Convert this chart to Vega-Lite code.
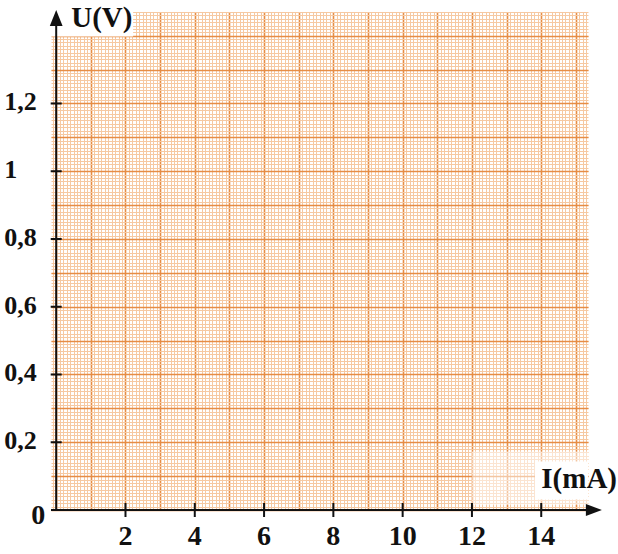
{
  "$schema": "https://vega.github.io/schema/vega-lite/v6.json",
  "width": 537,
  "height": 498,
  "autosize": {"type": "none"},
  "padding": {"left": 51, "top": 12, "right": 30, "bottom": 44},
  "background": "white",
  "config": {"view": {"stroke": null}},
  "resolve": {"axis": {"x": "independent", "y": "independent"}},
  "layer": [
    {
      "data": {"values": [{"I": 0, "U": 0}]},
      "mark": {"type": "point", "opacity": 0},
      "encoding": {
        "x": {"field": "I", "type": "quantitative", "scale": {"domain": [-0.15, 15.35], "nice": false, "zero": false},
              "axis": {"grid": true, "domain": false, "ticks": false, "labels": false, "title": null, "tickCount": 155, "gridColor": "#F6C9A2", "gridWidth": 1, "gridOpacity": 1}},
        "y": {"field": "U", "type": "quantitative", "scale": {"domain": [0, 1.47], "nice": false, "zero": false},
              "axis": {"grid": true, "domain": false, "ticks": false, "labels": false, "title": null, "tickCount": 147, "gridColor": "#F6C9A2", "gridWidth": 1, "gridOpacity": 1}}
      }
    },
    {
      "data": {"values": [{"I": 0, "U": 0}]},
      "mark": {"type": "point", "opacity": 0},
      "encoding": {
        "x": {"field": "I", "type": "quantitative", "scale": {"domain": [-0.15, 15.35], "nice": false, "zero": false},
              "axis": {"grid": true, "domain": false, "ticks": false, "labels": false, "title": null, "tickCount": 15, "gridColor": "#E68D45", "gridWidth": 1.6, "gridOpacity": 1}},
        "y": {"field": "U", "type": "quantitative", "scale": {"domain": [0, 1.47], "nice": false, "zero": false},
              "axis": {"grid": true, "domain": false, "ticks": false, "labels": false, "title": null, "tickCount": 15, "gridColor": "#E68D45", "gridWidth": 1.6, "gridOpacity": 1}}
      }
    },
    {
      "data": {"values": [{"I": 12.0, "I2": 15.35, "U": 0.015, "U2": 0.173}]},
      "mark": {"type": "rect", "fill": "white", "opacity": 0.5},
      "encoding": {
        "x": {"field": "I", "type": "quantitative", "scale": {"domain": [-0.15, 15.35], "nice": false, "zero": false}, "axis": null},
        "x2": {"field": "I2"},
        "y": {"field": "U", "type": "quantitative", "scale": {"domain": [0, 1.47], "nice": false, "zero": false}, "axis": null},
        "y2": {"field": "U2"}
      }
    },
    {
      "data": {"values": [
        {"I": 13.82, "I2": 15.35, "U": 0.031, "U2": 0.143},
        {"I": -0.15, "I2": 2.22, "U": 1.398, "U2": 1.47}
      ]},
      "mark": {"type": "rect", "fill": "white", "opacity": 1},
      "encoding": {
        "x": {"field": "I", "type": "quantitative", "scale": {"domain": [-0.15, 15.35], "nice": false, "zero": false}, "axis": null},
        "x2": {"field": "I2"},
        "y": {"field": "U", "type": "quantitative", "scale": {"domain": [0, 1.47], "nice": false, "zero": false}, "axis": null},
        "y2": {"field": "U2"}
      }
    },
    {
      "data": {"values": [
        {"I": -0.15, "I2": 15.5, "U": 0, "U2": 0},
        {"I": 0, "I2": 0, "U": 0, "U2": 1.45}
      ]},
      "mark": {"type": "rule", "color": "#111111", "strokeWidth": 2},
      "encoding": {
        "x": {"field": "I", "type": "quantitative", "scale": {"domain": [-0.15, 15.35], "nice": false, "zero": false}, "axis": null},
        "x2": {"field": "I2"},
        "y": {"field": "U", "type": "quantitative", "scale": {"domain": [0, 1.47], "nice": false, "zero": false}, "axis": null},
        "y2": {"field": "U2"}
      }
    },
    {
      "data": {"values": [
        {"I": 2, "U": 0}, {"I": 4, "U": 0}, {"I": 6, "U": 0}, {"I": 8, "U": 0},
        {"I": 10, "U": 0}, {"I": 12, "U": 0}, {"I": 14, "U": 0}
      ]},
      "mark": {"type": "tick", "orient": "vertical", "size": 14, "thickness": 2, "color": "#111111", "opacity": 1},
      "encoding": {
        "x": {"field": "I", "type": "quantitative", "scale": {"domain": [-0.15, 15.35], "nice": false, "zero": false}, "axis": null},
        "y": {"field": "U", "type": "quantitative", "scale": {"domain": [0, 1.47], "nice": false, "zero": false}, "axis": null}
      }
    },
    {
      "data": {"values": [
        {"I": 0, "U": 0.2}, {"I": 0, "U": 0.4}, {"I": 0, "U": 0.6},
        {"I": 0, "U": 0.8}, {"I": 0, "U": 1.0}, {"I": 0, "U": 1.2}
      ]},
      "mark": {"type": "tick", "orient": "horizontal", "size": 11, "thickness": 2, "color": "#111111", "opacity": 1},
      "encoding": {
        "x": {"field": "I", "type": "quantitative", "scale": {"domain": [-0.15, 15.35], "nice": false, "zero": false}, "axis": null},
        "y": {"field": "U", "type": "quantitative", "scale": {"domain": [0, 1.47], "nice": false, "zero": false}, "axis": null}
      }
    },
    {
      "data": {"values": [{"I": 15.52, "U": 0}]},
      "mark": {"type": "point", "shape": "M -1 -0.75 L 1 0 L -1 0.75 Z", "size": 256, "filled": true, "color": "#111111", "opacity": 1, "strokeWidth": 0},
      "encoding": {
        "x": {"field": "I", "type": "quantitative", "scale": {"domain": [-0.15, 15.35], "nice": false, "zero": false}, "axis": null},
        "y": {"field": "U", "type": "quantitative", "scale": {"domain": [0, 1.47], "nice": false, "zero": false}, "axis": null}
      }
    },
    {
      "data": {"values": [{"I": 0, "U": 1.452}]},
      "mark": {"type": "point", "shape": "M -0.8 1 L 0 -1 L 0.8 1 Z", "size": 256, "filled": true, "color": "#111111", "opacity": 1, "strokeWidth": 0},
      "encoding": {
        "x": {"field": "I", "type": "quantitative", "scale": {"domain": [-0.15, 15.35], "nice": false, "zero": false}, "axis": null},
        "y": {"field": "U", "type": "quantitative", "scale": {"domain": [0, 1.47], "nice": false, "zero": false}, "axis": null}
      }
    },
    {
      "data": {"values": [
        {"I": 2, "U": 0, "lab": "2"}, {"I": 4, "U": 0, "lab": "4"}, {"I": 6, "U": 0, "lab": "6"},
        {"I": 8, "U": 0, "lab": "8"}, {"I": 10, "U": 0, "lab": "10"}, {"I": 12, "U": 0, "lab": "12"},
        {"I": 14, "U": 0, "lab": "14"}
      ]},
      "mark": {"type": "text", "font": "Liberation Serif", "fontWeight": "bold", "fontSize": 28, "align": "center", "baseline": "alphabetic", "dy": 35, "color": "#111111"},
      "encoding": {
        "x": {"field": "I", "type": "quantitative", "scale": {"domain": [-0.15, 15.35], "nice": false, "zero": false}, "axis": null},
        "y": {"field": "U", "type": "quantitative", "scale": {"domain": [0, 1.47], "nice": false, "zero": false}, "axis": null},
        "text": {"field": "lab"}
      }
    },
    {
      "data": {"values": [
        {"I": 0, "U": 0.2, "lab": "0,2"}, {"I": 0, "U": 0.4, "lab": "0,4"}, {"I": 0, "U": 0.6, "lab": "0,6"},
        {"I": 0, "U": 0.8, "lab": "0,8"}, {"I": 0, "U": 1.0, "lab": "1"}, {"I": 0, "U": 1.2, "lab": "1,2"}
      ]},
      "mark": {"type": "text", "font": "Liberation Serif", "fontWeight": "bold", "fontSize": 26, "align": "left", "baseline": "alphabetic", "dx": -52, "dy": 7, "color": "#111111"},
      "encoding": {
        "x": {"field": "I", "type": "quantitative", "scale": {"domain": [-0.15, 15.35], "nice": false, "zero": false}, "axis": null},
        "y": {"field": "U", "type": "quantitative", "scale": {"domain": [0, 1.47], "nice": false, "zero": false}, "axis": null},
        "text": {"field": "lab"}
      }
    },
    {
      "data": {"values": [{"I": 0, "U": 0, "lab": "0"}]},
      "mark": {"type": "text", "font": "Liberation Serif", "fontWeight": "bold", "fontSize": 28, "align": "right", "baseline": "alphabetic", "dx": -11, "dy": 14, "color": "#111111"},
      "encoding": {
        "x": {"field": "I", "type": "quantitative", "scale": {"domain": [-0.15, 15.35], "nice": false, "zero": false}, "axis": null},
        "y": {"field": "U", "type": "quantitative", "scale": {"domain": [0, 1.47], "nice": false, "zero": false}, "axis": null},
        "text": {"field": "lab"}
      }
    },
    {
      "data": {"values": [{"I": 0, "U": 1.47, "lab": "U(V)"}]},
      "mark": {"type": "text", "font": "Liberation Serif", "fontWeight": "bold", "fontSize": 29, "align": "left", "baseline": "alphabetic", "dx": 15, "dy": 15, "color": "#111111"},
      "encoding": {
        "x": {"field": "I", "type": "quantitative", "scale": {"domain": [-0.15, 15.35], "nice": false, "zero": false}, "axis": null},
        "y": {"field": "U", "type": "quantitative", "scale": {"domain": [0, 1.47], "nice": false, "zero": false}, "axis": null},
        "text": {"field": "lab"}
      }
    },
    {
      "data": {"values": [{"I": 15.35, "U": 0, "lab": "I(mA)"}]},
      "mark": {"type": "text", "font": "Liberation Serif", "fontWeight": "bold", "fontSize": 29, "align": "right", "baseline": "alphabetic", "dx": 29, "dy": -22, "color": "#111111"},
      "encoding": {
        "x": {"field": "I", "type": "quantitative", "scale": {"domain": [-0.15, 15.35], "nice": false, "zero": false}, "axis": null},
        "y": {"field": "U", "type": "quantitative", "scale": {"domain": [0, 1.47], "nice": false, "zero": false}, "axis": null},
        "text": {"field": "lab"}
      }
    }
  ]
}
